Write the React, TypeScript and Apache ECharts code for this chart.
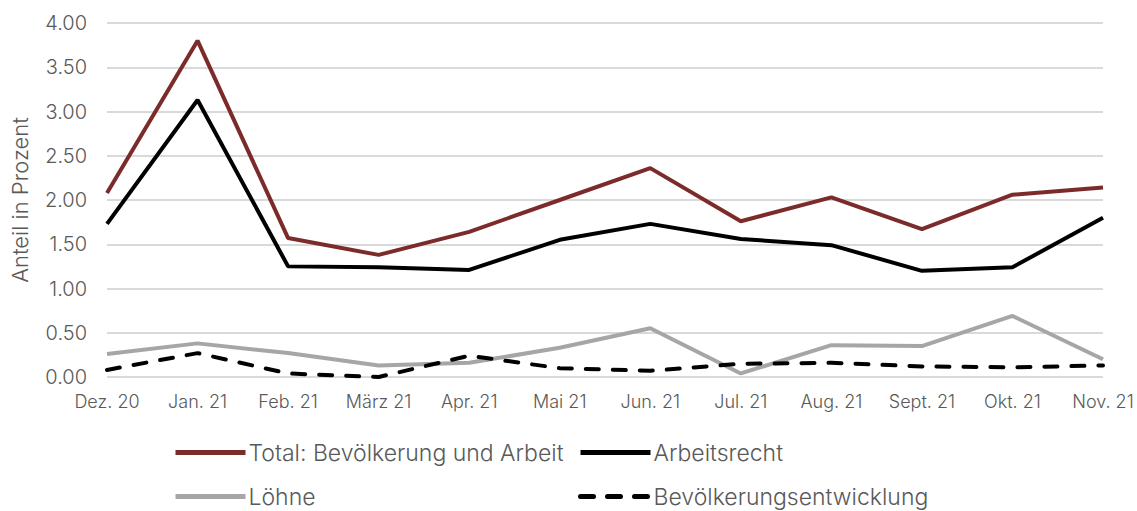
import React, { useEffect, useRef } from "react";
import * as echarts from "echarts";

const categories = ["Dez. 20", "Jan. 21", "Feb. 21", "März 21", "Apr. 21", "Mai 21", "Jun. 21", "Jul. 21", "Aug. 21", "Sept. 21", "Okt. 21", "Nov. 21"];
const totalValues = [2.08, 3.8, 1.57, 1.38, 1.64, 2.0, 2.36, 1.76, 2.03, 1.67, 2.06, 2.14];
const arbeitsrechtValues = [1.73, 3.13, 1.25, 1.24, 1.21, 1.55, 1.73, 1.56, 1.49, 1.2, 1.24, 1.8];
const loehneValues = [0.26, 0.38, 0.27, 0.13, 0.16, 0.33, 0.55, 0.04, 0.36, 0.35, 0.69, 0.2];
const bevoelkerungValues = [0.08, 0.27, 0.04, 0.0, 0.24, 0.1, 0.07, 0.15, 0.16, 0.12, 0.11, 0.13];
const seriesNames = ["Total: Bevölkerung und Arbeit", "Arbeitsrecht", "Löhne", "Bevölkerungsentwicklung"];

const FONT = "Inter";
const TEXT = "#595959";
const W = 300;

export default function App() {
  const ref = useRef<HTMLDivElement>(null);
  useEffect(() => {
    if (!ref.current) return;
    const chart = echarts.init(ref.current, null, { renderer: "svg" });
    const legendBase = {
      orient: "horizontal",
      padding: 0,
      itemWidth: 70,
      itemHeight: 14,
      itemGap: 5,
      itemStyle: { opacity: 0 },
      lineStyle: { width: 5 },
      textStyle: { fontFamily: FONT, fontWeight: W, fontSize: 23, color: TEXT, padding: [0, 0, 0, -2] },
    };
    chart.setOption({
      animation: false,
      textStyle: { fontFamily: FONT },
      grid: { left: 107, right: 34, top: 23, bottom: 134, containLabel: false },
      legend: [
        { ...legendBase, left: 173, top: 441, data: [seriesNames[0]] },
        { ...legendBase, left: 578, top: 441, data: [seriesNames[1]] },
        { ...legendBase, left: 173, top: 485, data: [seriesNames[2]] },
        { ...legendBase, left: 578, top: 485, data: [seriesNames[3]] },
      ],
      xAxis: {
        type: "category",
        data: categories,
        boundaryGap: false,
        axisLine: { show: false },
        axisTick: { show: false },
        axisLabel: { color: TEXT, fontFamily: FONT, fontWeight: W, fontSize: 18, margin: 15 },
      },
      yAxis: {
        type: "value",
        min: 0,
        max: 4,
        interval: 0.5,
        name: "Anteil in Prozent",
        nameLocation: "middle",
        nameGap: 76,
        nameTextStyle: { color: TEXT, fontFamily: FONT, fontWeight: W, fontSize: 22 },
        axisLine: { show: false },
        axisTick: { show: false },
        splitLine: { lineStyle: { color: "#D9D9D9", width: 2 } },
        axisLabel: { color: TEXT, fontFamily: FONT, fontWeight: W, fontSize: 20, margin: 20, formatter: (v: number) => v.toFixed(2) },
      },
      series: [
        { name: seriesNames[0], type: "line", data: totalValues, showSymbol: false, symbol: "none", lineStyle: { color: "#7B2B29", width: 4 }, itemStyle: { color: "#7B2B29" } },
        { name: seriesNames[1], type: "line", data: arbeitsrechtValues, showSymbol: false, symbol: "none", lineStyle: { color: "#000000", width: 4 }, itemStyle: { color: "#000000" } },
        { name: seriesNames[2], type: "line", data: loehneValues, showSymbol: false, symbol: "none", lineStyle: { color: "#A6A6A6", width: 4 }, itemStyle: { color: "#A6A6A6" } },
        { name: seriesNames[3], type: "line", data: bevoelkerungValues, showSymbol: false, symbol: "none", lineStyle: { color: "#000000", width: 4, type: [13, 14], cap: "round" }, itemStyle: { color: "#000000" } },
      ],
    });
    return () => chart.dispose();
  }, []);
  return <div ref={ref} style={{ width: 1137, height: 511, position: "absolute", left: 0, top: 0 }} />;
}
